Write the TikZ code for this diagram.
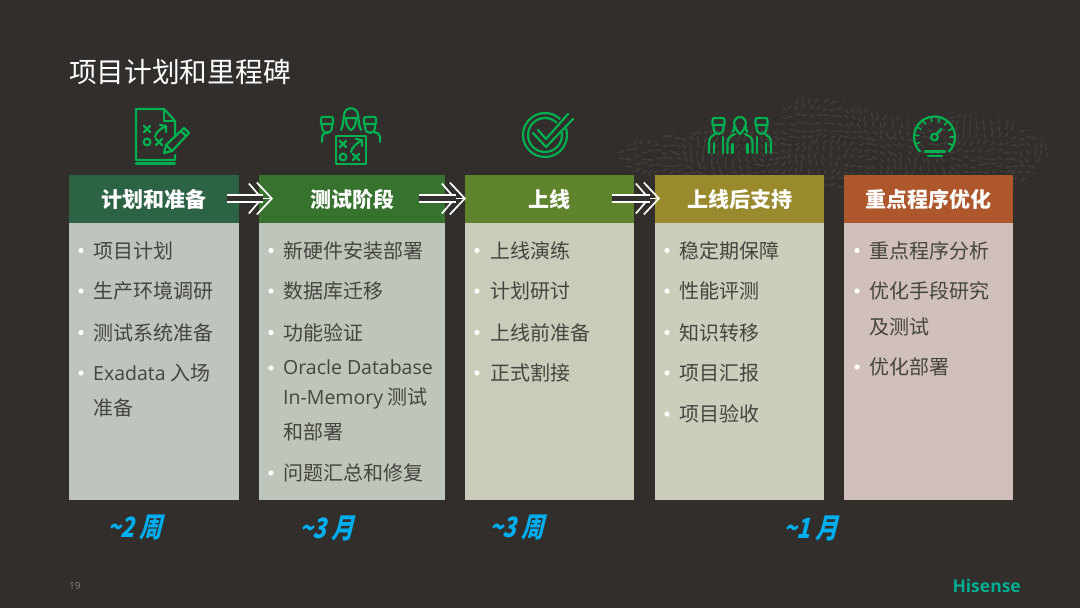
\documentclass[tikz,border=0pt]{standalone}
\usepackage{fontspec}
\setmainfont{Noto Sans CJK SC}
\newfontfamily\latinfont{Open Sans}
\newfontfamily\spanfont{Noto Sans CJK SC}[FakeSlant=0.25,FakeStretch=0.8]
\usetikzlibrary{arrows.meta}
\definecolor{slide}{HTML}{322E2B}
\definecolor{grain}{HTML}{413D39}
\definecolor{icongreen}{HTML}{00B050}
\definecolor{bodyink}{HTML}{45453F}
\definecolor{spanblue}{HTML}{00AEEF}
\tikzset{
  head/.style={rectangle,inner sep=0pt,minimum height=48pt,text=white,font=\fontsize{21}{25}\selectfont\bfseries},
  bodybox/.style={rectangle,inner sep=0pt,minimum height=277pt},
  itemtext/.style={anchor=west,inner sep=0pt,text=bodyink,font=\fontsize{20}{24}\selectfont},
  span/.style={anchor=west,inner sep=0pt,text=spanblue,font=\fontsize{28}{32}\spanfont\bfseries},
  icon/.style={draw=icongreen,line width=2.2pt,line join=round,line cap=round},
  flowtip/.style={draw=white,line width=1.8pt,-{Straight Barb[length=13pt,width=30pt,line width=1.7pt,sep=-7pt]Straight Barb[length=15pt,width=32pt,line width=1.7pt]}},
  flowshaft/.style={draw=white,line width=1.8pt,double=slide,double distance=4.6pt,shorten >=10pt},
  pics/xmark/.style={code={\draw[icon] (-3,-3) -- (3,3) (-3,3) -- (3,-3);}},
  pics/tactics/.style={code={
    \pic at (0,0) {xmark};
    \pic at (12,13) {xmark};
    \draw[icon] (0,13) circle (3.4);
    \draw[icon] (8,8) .. controls (9,3) and (13,0) .. (19,-3);
    \draw[icon] (13,-4) -- (19,-3) -- (19,3);
  }},
  pics/capman/.style={code={
    \draw[icon] (-6,7) -- (-6,2) .. controls (-6,0) and (-5,0) .. (-3,0) -- (3,0) .. controls (5,0) and (6,0) .. (6,2) -- (6,7) -- cycle;
    \draw[icon] (-5,7) -- (-5,10) .. controls (-5,14) and (-2,16) .. (0,16) .. controls (2,16) and (5,14) .. (5,10) -- (5,7);
  }}
}
\def\topy{199}
\def\rowa{250.5}
\def\rowb{291}
\def\rowc{332.5}
\def\rowd{373}
\def\rowe{414}

\begin{document}
\begin{tikzpicture}[x=1pt,y=-1pt]
  \useasboundingbox (0,0) rectangle (1080,608);
  \fill[slide] (0,0) rectangle (1080,608);

  % Grain
  \begin{scope}
    \clip (617,153) .. controls (625,143) and (650,135) .. (693,132) .. controls (720,128) and (760,132) .. (777,118)
      .. controls (782,105) and (800,96) .. (817,97) .. controls (850,100) and (880,118) .. (910,118)
      .. controls (950,112) and (1000,112) .. (1030,130) .. controls (1052,142) and (1056,155) .. (1040,168)
      .. controls (1030,178) and (1020,184) .. (1005,187) -- (830,190) -- (640,175) .. controls (625,170) and (614,162) .. (617,153) -- cycle;
    \pgfmathsetseed{19}
    \foreach \gi in {0,...,64} {
      \foreach \gj in {0,...,14} {
        \pgfmathsetmacro{\gx}{612+7*\gi+rnd*3}
        \pgfmathsetmacro{\gy}{94+7*\gj+rnd*3}
        \pgfmathsetmacro{\ga}{70*sin(\gx*2.1)+50*cos(\gy*5+\gx)+rnd*30}
        \draw[grain,line width=1.5pt,line cap=round] (\gx,\gy) -- ++(\ga:4.5);
      }
    }
  \end{scope}

  % Title
  \node[anchor=west,inner sep=0pt,text=white,font=\fontsize{27.7}{32}\selectfont] (title) at (69,72) {项目计划和里程碑};

  % Headers
  \node[head,fill={rgb,255:red,44;green,99;blue,68},minimum width=170pt] (plan) at (154,\topy) {计划和准备};
  \node[head,fill={rgb,255:red,55;green,114;blue,47},minimum width=186pt] (test) at (352,\topy) {测试阶段};
  \node[head,fill={rgb,255:red,96;green,131;blue,45},minimum width=169.5pt] (live) at (549.5,\topy) {上线};
  \node[head,fill={rgb,255:red,154;green,138;blue,46},minimum width=169pt] (care) at (739.5,\topy) {上线后支持};
  \node[head,fill={rgb,255:red,174;green,87;blue,44},minimum width=169pt] (tune) at (928.5,\topy) {重点程序优化};

  % Bodies
  \node[bodybox,fill={rgb,255:red,190;green,196;blue,190},minimum width=170pt] (planbody) at (154,361.5) {};
  \node[bodybox,fill={rgb,255:red,190;green,198;blue,187},minimum width=186pt] (testbody) at (352,361.5) {};
  \node[bodybox,fill={rgb,255:red,200;green,204;blue,185},minimum width=169.5pt] (livebody) at (549.5,361.5) {};
  \node[bodybox,fill={rgb,255:red,205;green,205;blue,187},minimum width=169pt] (carebody) at (739.5,361.5) {};
  \node[bodybox,fill={rgb,255:red,208;green,191;blue,187},minimum width=169pt] (tunebody) at (928.5,361.5) {};

  % Arrows
  \coordinate (pa) at (227,198.5);
  \coordinate (pb) at (273,198.5);
  \coordinate (ta) at (419,198.5);
  \coordinate (tb) at (466,198.5);
  \coordinate (la) at (612,198.5);
  \coordinate (lb) at (660,198.5);
  \foreach \from/\to in {pa/pb,ta/tb,la/lb} {
    \draw[flowtip] (\from) -- (\to);
    \draw[flowshaft] (\from) -- (\to);
  }

  % Bullets
  \foreach \bx/\by in {81/\rowa,81/\rowb,81/\rowc,81/\rowd,
                       271/\rowa,271/\rowb,271/\rowc,271/368,271/473,
                       477/\rowa,477/\rowb,477/\rowc,477/\rowd,
                       667/\rowa,667/\rowb,667/\rowc,667/\rowd,667/\rowe,
                       857/\rowa,857/\rowb,857/367}
    \fill[white] (\bx,\by) circle (2.6);

  % Items
  \node[itemtext] (plana) at (93,\rowa) {项目计划};
  \node[itemtext] (planb) at (93,\rowb) {生产环境调研};
  \node[itemtext] (planc) at (93,\rowc) {测试系统准备};
  \node[itemtext] (pland) at (93,\rowd) {{\fontsize{19.5}{24}\latinfont Exadata} 入场};
  \node[itemtext] (plane) at (93,408) {准备};

  \node[itemtext] (testa) at (283,\rowa) {新硬件安装部署};
  \node[itemtext] (testb) at (283,\rowb) {数据库迁移};
  \node[itemtext] (testc) at (283,\rowc) {功能验证};
  \node[itemtext] (testd) at (283,367) {\fontsize{19.5}{24}\latinfont Oracle Database};
  \node[itemtext] (teste) at (283,398) {{\fontsize{19.5}{24}\latinfont In-Memory} 测试};
  \node[itemtext] (testf) at (283,432) {和部署};
  \node[itemtext] (testg) at (283,473) {问题汇总和修复};

  \node[itemtext] (livea) at (490,\rowa) {上线演练};
  \node[itemtext] (liveb) at (490,\rowb) {计划研讨};
  \node[itemtext] (livec) at (490,\rowc) {上线前准备};
  \node[itemtext] (lived) at (490,\rowd) {正式割接};

  \node[itemtext] (carea) at (679,\rowa) {稳定期保障};
  \node[itemtext] (careb) at (679,\rowb) {性能评测};
  \node[itemtext] (carec) at (679,\rowc) {知识转移};
  \node[itemtext] (cared) at (679,\rowd) {项目汇报};
  \node[itemtext] (caree) at (679,\rowe) {项目验收};

  \node[itemtext] (tunea) at (869,\rowa) {重点程序分析};
  \node[itemtext] (tuneb) at (869,\rowb) {优化手段研究};
  \node[itemtext] (tunec) at (869,327) {及测试};
  \node[itemtext] (tuned) at (869,367) {优化部署};

  % Durations
  \node[span] (spana) at (107,528) {\textasciitilde 2 周};
  \node[span] (spanb) at (299,528) {\textasciitilde 3 月};
  \node[span] (spanc) at (489,528) {\textasciitilde 3 周};
  \node[span] (spand) at (783,528) {\textasciitilde 1 月};

  % Footer
  \node[anchor=west,inner sep=0pt,text=gray,font=\fontsize{10}{12}\latinfont] (page) at (69,586) {19};
  \node[anchor=east,inner sep=0pt,text={rgb,255:red,0;green,173;blue,146},font=\fontsize{17.5}{20}\latinfont\bfseries] (brand) at (1021,586) {Hisense};

  % Document icon
  \draw[icon] (175,137) -- (175,121) -- (164,109) -- (136,109) -- (136,160) -- (175,160) -- (175,155);
  \draw[icon] (164,109) -- (164,121) -- (175,121);
  \draw[icon] (136,163.5) -- (175,163.5);
  \pic at (147,129) {tactics};
  \draw[icon] (164,153) -- (166,145) -- (184,128) -- (189,133) -- (172,151) -- cycle;
  \draw[icon] (166,145) -- (172,151) (181,131) -- (186,136);

  % Team and board icon
  \draw[icon] (336,136) rectangle (366,164);
  \pic at (343,144) {xmark};
  \draw[icon] (343,157) circle (3.4);
  \pic at (356,157) {xmark};
  \draw[icon] (351,152) .. controls (352,147) and (356,144) .. (362,140);
  \draw[icon] (356,139) -- (362,140) -- (362,146);
  \draw[icon] (341,130) .. controls (344,124) and (343,119) .. (344,115) .. controls (345,106) and (357,106) .. (358,115) .. controls (359,119) and (358,124) .. (361,130);
  \draw[icon] (345,118) .. controls (348,118) and (354,118) .. (357,118) (346,119) .. controls (346,128) and (351,130) .. (351,130) .. controls (351,130) and (356,128) .. (356,119);
  \pic at (327,117) {capman};
  \draw[icon] (322,142) -- (322,138) .. controls (322,134) and (325,132) .. (328,132);
  \pic at (370,117) {capman};
  \draw[icon] (380,142) -- (380,138) .. controls (380,134) and (377,132) .. (374,132);

  % Check icon
  \draw[icon] (545,135) circle (22);
  \draw[icon] (545,135) circle (17);
  \draw[slide,line width=10pt,line cap=butt] (540,136) -- (546,142) -- (572,114);
  \draw[icon] (533,133) -- (546,147) -- (573,119);
  \draw[icon] (538,130) -- (546,139) -- (568,114);

  % Support team icon
  \pic at (718.5,118) {capman};
  \pic at (761.5,118) {capman};
  \draw[icon] (733,132) .. controls (736,126) and (733,122) .. (735,120) .. controls (737,116) and (743,116) .. (745,120) .. controls (747,122) and (744,126) .. (747,132);
  \draw[icon] (735,126) .. controls (736,131) and (740,134) .. (740,134) .. controls (740,134) and (744,131) .. (745,126);
  \draw[icon] (709,153) -- (709,143) .. controls (709,137) and (712,136) .. (715,134);
  \draw[icon] (714,153) -- (714,143) (723,153) -- (723,137);
  \draw[icon] (771,153) -- (771,143) .. controls (771,137) and (768,136) .. (765,134);
  \draw[icon] (766,153) -- (766,143) (757,153) -- (757,137);
  \draw[icon] (727.5,153) -- (727.5,143) .. controls (727.5,137) and (731,136) .. (735,134) (752.5,153) -- (752.5,143) .. controls (752.5,137) and (749,136) .. (745,134);
  \draw[icon] (732.5,153) -- (732.5,144) (747.5,153) -- (747.5,144);

  % Gauge icon
  \draw[icon] (934.5,137) ++(135:20.5) arc[start angle=135,end angle=405,radius=20.5];
  \foreach \a in {160,185,210,235,260,285,310,335,360,385}
    \draw[icon,line width=1.6pt] (934.5,137) ++(\a:20) -- ++(\a:-4.5);
  \draw[icon] (934.5,137) circle (3.4);
  \draw[icon] (936.5,134) -- (941.5,129);
  \draw[icon] (925,151.5) -- (945,151.5);
  \draw[icon] (928,156) -- (942,156);
\end{tikzpicture}
\end{document}
